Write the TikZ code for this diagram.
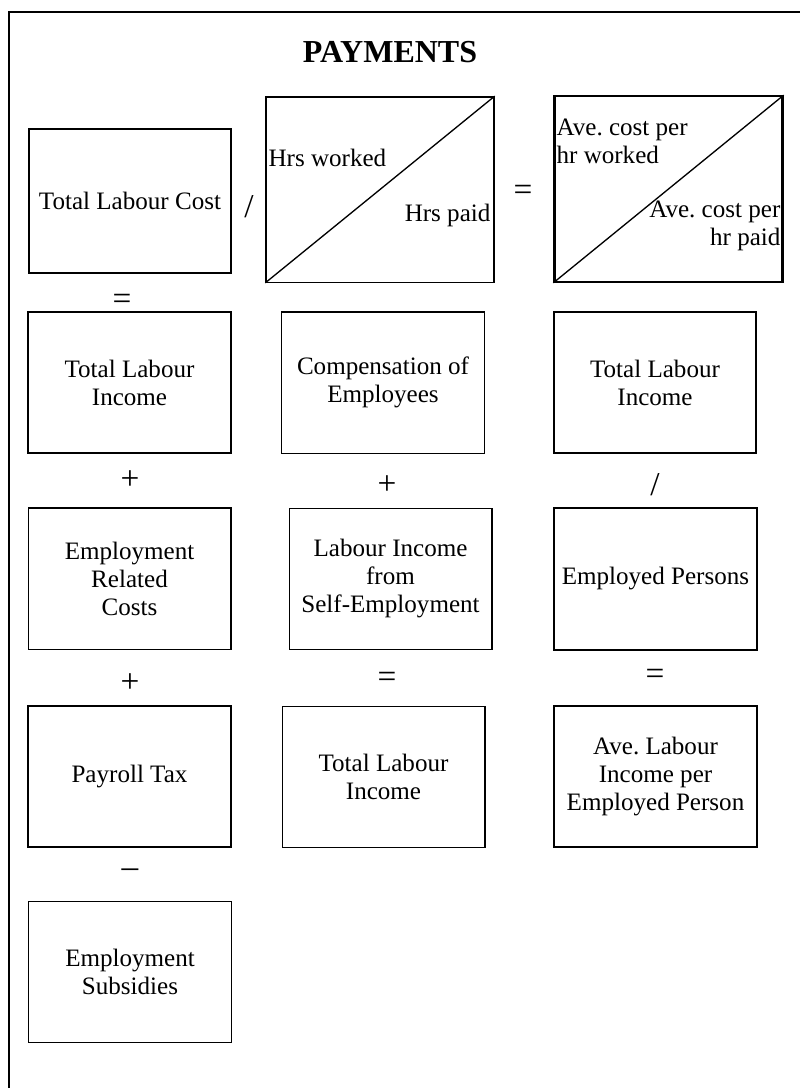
\documentclass[tikz,border=0pt]{standalone}
\usepackage{fontspec}
\setmainfont{Liberation Serif}
\usetikzlibrary{positioning}
\frenchspacing

\begin{document}
\begin{tikzpicture}[
    x=0.75pt, y=-0.75pt,
    box/.style={rectangle, draw, line width=1pt, minimum width=152pt, minimum height=106pt, align=center, inner sep=2pt, font=\fontsize{18.8pt}{21pt}\selectfont},
    heavy/.style={box, line width=1.7pt},
    split/.style={rectangle, draw, minimum width=171pt, minimum height=139pt},
    lbl/.style={inner sep=1pt, font=\fontsize{18.8pt}{21pt}\selectfont},
    op/.style={inner sep=0pt, font=\fontsize{25pt}{28pt}\selectfont}
]
\useasboundingbox (0,0) rectangle (800,1088);

% Frame
\draw[line width=1.5pt] (9,1088) -- (9,12) -- (800,12);

% Title
\node[font=\fontsize{24pt}{28pt}\selectfont\bfseries] (title) at (390,52) {PAYMENTS};

% Top row
\node[heavy, minimum height=108pt] (tlc) at (130,201) {Total Labour Cost};
\node[split, line width=1pt] (hrs) at (380,189.5) {};
\node[split, line width=1.7pt] (avc) at (668.5,189) {};
\draw[line width=1pt] (hrs.south west) -- (hrs.north east);
\draw[line width=1pt] (avc.south west) -- (avc.north east);

\node[lbl, anchor=west] (hw) at (267,158) {Hrs worked};
\node[lbl, anchor=east] (hp) at (492,215) {Hrs paid};
\node[lbl, anchor=west, align=left] (acw) at (555,141) {Ave. cost per\\hr worked};
\node[lbl, anchor=east, align=right] (acp) at (782,226) {Ave. cost per\\hr paid};

\node[op] (div1) at (249,207) {/};
\node[op] (eq1) at (523,193) {=};
\node[op] (eq2) at (122,302) {=};

% Second row
\node[heavy] (tli1) at (129.5,382.5) {Total Labour\\Income};
\node[box] (coe) at (383,382.5) {Compensation of\\Employees};
\node[heavy] (tli2) at (655,382.5) {Total Labour\\Income};

\node[op] (plus1) at (130,480) {+};
\node[op] (plus2) at (387,485) {+};
\node[op] (div2) at (655,485) {/};

% Third row
\node[box] (erc) at (129.5,578.5) {Employment\\Related\\Costs};
\node[box] (lise) at (390.5,579) {Labour Income\\from\\Self-Employment};
\node[heavy] (emp) at (655.5,579) {Employed Persons};

\node[op] (plus3) at (130,683) {+};
\node[op] (eq3) at (387,680) {=};
\node[op] (eq4) at (655,677) {=};

% Fourth row
\node[heavy] (ptx) at (129.5,776.5) {Payroll Tax};
\node[box] (tli3) at (383.5,777) {Total Labour\\Income};
\node[heavy] (ali) at (655.5,776.5) {Ave. Labour\\Income per\\Employed Person};

\node[op] (minus) at (130,873) {--};

% Fifth row
\node[box] (esub) at (130,972) {Employment\\Subsidies};

\end{tikzpicture}
\end{document}
